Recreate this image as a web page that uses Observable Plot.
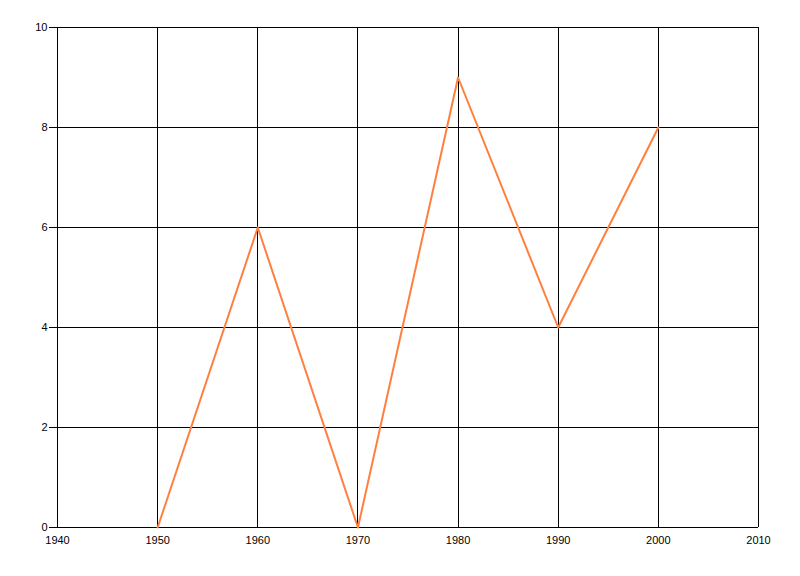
<!DOCTYPE html>
<html>
<head>
<meta charset="utf-8">
<script src="https://cdn.jsdelivr.net/npm/d3@7"></script>
<script src="https://cdn.jsdelivr.net/npm/@observablehq/plot@0.6"></script>
<style>
html, body { margin: 0; padding: 0; background: #fff; }
</style>
</head>
<body>
<div id="chart"></div>
<script>
const years = [1950, 1960, 1970, 1980, 1990, 2000];
const values = [0, 6, 0, 9, 4, 8];
const xTicks = [1940, 1950, 1960, 1970, 1980, 1990, 2000, 2010];
const yTicks = [0, 2, 4, 6, 8, 10];

const data = years.map((y, i) => ({year: y, value: values[i]}));

const chart = Plot.plot({
  width: 800,
  height: 576,
  marginLeft: 57,
  marginRight: 42,
  marginTop: 27,
  marginBottom: 49,
  style: {fontFamily: "'Liberation Sans', Arial, sans-serif", fontSize: "11px", background: "#fff", color: "#000"},
  x: {domain: [1940, 2010], ticks: xTicks, tickFormat: "d", label: null},
  y: {domain: [0, 10], ticks: yTicks, tickFormat: "d", label: null},
  marks: [
    Plot.gridX(xTicks, {stroke: "#000", strokeOpacity: 1, strokeWidth: 1, shapeRendering: "crispEdges"}),
    Plot.gridY(yTicks, {stroke: "#000", strokeOpacity: 1, strokeWidth: 1, shapeRendering: "crispEdges"}),
    Plot.axisY(yTicks, {tickSize: 8, tickPadding: 2, tickFormat: "d", stroke: "#000", fill: "#000"}),
    Plot.axisX(xTicks, {tickSize: 0, tickPadding: 9, tickFormat: "d", fill: "#000"}),
    Plot.line(data, {x: "year", y: "value", stroke: "#ff7f3f", strokeWidth: 2})
  ]
});
document.getElementById("chart").appendChild(chart);
</script>
</body>
</html>
